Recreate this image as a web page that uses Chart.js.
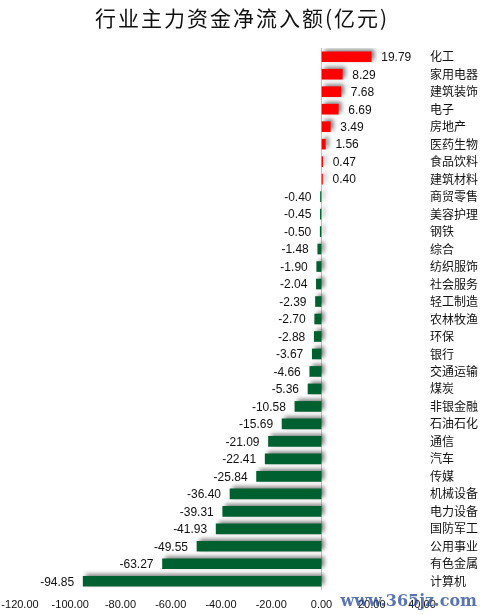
<!DOCTYPE html>
<html>
<head>
<meta charset="utf-8">
<script src="https://cdn.jsdelivr.net/npm/chart.js@4"></script>
<style>
html,body{margin:0;padding:0;background:#fff;}
#wrap{width:483px;height:615px;}
</style>
</head>
<body>
<div id="wrap"><canvas id="c" width="483" height="615"></canvas></div>
<script>
const categories = ["化工","家用电器","建筑装饰","电子","房地产","医药生物","食品饮料","建筑材料","商贸零售","美容护理","钢铁","综合","纺织服饰","社会服务","轻工制造","农林牧渔","环保","银行","交通运输","煤炭","非银金融","石油石化","通信","汽车","传媒","机械设备","电力设备","国防军工","公用事业","有色金属","计算机"];
const values = [19.79,8.29,7.68,6.69,3.49,1.56,0.47,0.40,-0.40,-0.45,-0.50,-1.48,-1.90,-2.04,-2.39,-2.70,-2.88,-3.67,-4.66,-5.36,-10.58,-15.69,-21.09,-22.41,-25.84,-36.40,-39.31,-41.93,-49.55,-63.27,-94.85];
const xTicks = [-120,-100,-80,-60,-40,-20,0,20,40];
const titleText = "行业主力资金净流入额(亿元)";
const watermark = "www.365jz.com";

const shadowPlugin = {
  id: 'shadow',
  beforeDatasetDraw(chart) {
    const ctx = chart.ctx;
    ctx.save();
    ctx.shadowColor = 'rgba(0,0,0,0.5)';
    ctx.shadowBlur = 4;
    ctx.shadowOffsetX = 3;
    ctx.shadowOffsetY = -2;
  },
  afterDatasetDraw(chart) {
    chart.ctx.restore();
  }
};

const labelPlugin = {
  id: 'valLabels',
  beforeDraw(chart) {
    const ctx = chart.ctx;
    ctx.save();
    ctx.font = '21px "Noto Sans CJK SC", sans-serif';
    ctx.fillStyle = '#111';
    ctx.textAlign = 'center';
    ctx.textBaseline = 'middle';
    try { ctx.letterSpacing = '2px'; } catch (e) {}
    ctx.fillText(titleText, 242, 18);
    ctx.restore();
  },
  afterDatasetsDraw(chart) {
    const ctx = chart.ctx;
    const meta = chart.getDatasetMeta(0);
    ctx.save();
    ctx.font = '12px "Liberation Sans", Arial, sans-serif';
    ctx.fillStyle = '#111';
    ctx.textBaseline = 'middle';
    meta.data.forEach((bar, i) => {
      const v = values[i];
      const t = v.toFixed(2);
      if (v >= 0) { ctx.textAlign = 'left'; ctx.fillText(t, bar.x + 10, bar.y + 1); }
      else { ctx.textAlign = 'right'; ctx.fillText(t, bar.x - 9, bar.y + 1); }
    });
    ctx.restore();
  },
  afterDraw(chart) {
    const ctx = chart.ctx;
    ctx.save();
    ctx.font = 'bold 16px "DejaVu Serif", serif';
    ctx.fillStyle = 'rgba(35,70,150,0.75)';
    ctx.textAlign = 'right';
    ctx.textBaseline = 'middle';
    ctx.fillText(watermark, 477, 602);
    ctx.restore();
  }
};

new Chart(document.getElementById('c'), {
  type: 'bar',
  data: {
    labels: categories,
    datasets: [{
      data: values,
      backgroundColor: values.map(v => v >= 0 ? '#ff0000' : '#00602f'),
      barThickness: 10,
      borderWidth: 0
    }]
  },
  options: {
    indexAxis: 'y',
    responsive: false,
    animation: false,
    layout: { padding: { left: 20, right: 0, top: 48, bottom: 0 } },
    plugins: {
      legend: { display: false },
      tooltip: { enabled: false },
      title: { display: false }
    },
    scales: {
      x: {
        min: -120, max: 40,
        afterBuildTicks(axis) { axis.ticks = xTicks.map(v => ({ value: v })); },
        ticks: {
          callback: v => Number(v).toFixed(2),
          color: '#111',
          font: { family: '"Liberation Sans", Arial, sans-serif', size: 11 },
          padding: 8,
          maxRotation: 0,
          autoSkip: false
        },
        grid: {
          drawTicks: false,
          color: c => (c.tick && c.tick.value === 0) ? '#c4c4c4' : 'rgba(0,0,0,0)',
          lineWidth: 1
        },
        border: { display: false },
        afterFit(axis) { axis.height = 25; axis.paddingLeft = 0; axis.paddingRight = 0; }
      },
      y: {
        position: 'right',
        ticks: {
          color: '#111',
          font: { family: '"Noto Sans CJK SC", sans-serif', size: 12 },
          padding: 8,
          autoSkip: false
        },
        grid: { display: false, drawTicks: false },
        border: { display: false },
        afterFit(axis) { axis.width = 61; }
      }
    }
  },
  plugins: [shadowPlugin, labelPlugin]
});
</script>
</body>
</html>
